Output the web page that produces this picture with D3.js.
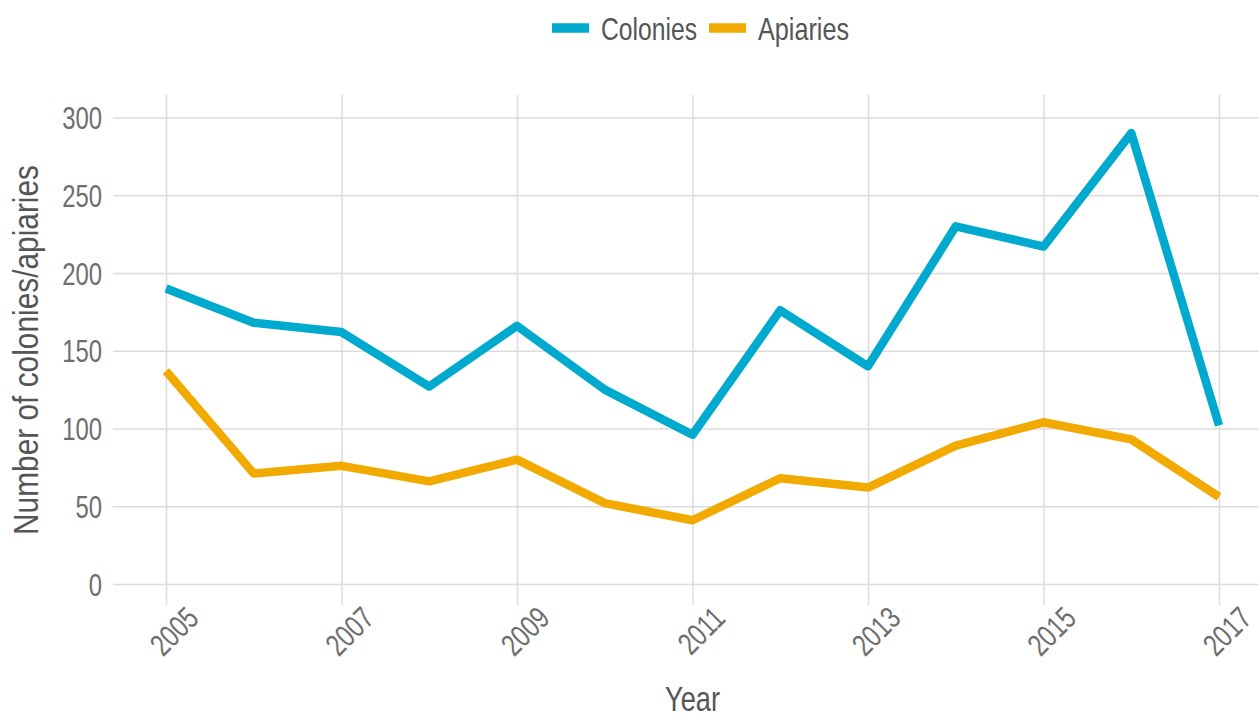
<!DOCTYPE html>
<html>
<head>
<meta charset="utf-8">
<style>
  body { margin: 0; background: #fff; }
  svg text { font-family: "Liberation Sans", Arial, sans-serif; }
</style>
</head>
<body>
<div class="chartContainer"></div>
<script src="https://d3js.org/d3.v7.min.js"></script>
<script>
    // data
    const years = [2005, 2006, 2007, 2008, 2009, 2010, 2011, 2012, 2013, 2014, 2015, 2016, 2017];
    const colonies = [190, 168, 162, 127, 166, 125, 96, 176, 140, 230, 217, 290, 102];
    const apiaries = [137, 71, 76, 66, 80, 52, 41, 68, 62, 89, 104, 93, 56];
    const xTicks = [2005, 2007, 2009, 2011, 2013, 2015, 2017];
    const yTicks = [0, 50, 100, 150, 200, 250, 300];
    const seriesNames = ['Colonies', 'Apiaries'];
    const seriesColors = ['#00a9ce', '#f2a900'];

    const W = 1259, H = 714;
    const panel = {left: 113, right: 1259, top: 95, bottom: 584};

    const svg = d3.select('.chartContainer')
                  .append('svg')
                  .attr('width', W)
                  .attr('height', H);

    // the reference font is condensed; squeeze the glyphs horizontally
    function squeeze(sel, ratio) {
      sel.each(function(){
        const w = this.getComputedTextLength();
        d3.select(this).attr('textLength', w * ratio).attr('lengthAdjust', 'spacingAndGlyphs');
      });
    }

    const x = d3.scaleLinear().domain([2005, 2017]).range([166, 1219]);
    const y = d3.scaleLinear().domain([0, 300]).range([584, 117.5]);

    // horizontal grid + y labels
    const yAxis = svg.append('g')
                     .attr('transform', `translate(${panel.left},0)`)
                     .call(d3.axisLeft(y).tickValues(yTicks).tickSize(-(panel.right - panel.left)).tickPadding(11));
    yAxis.select('.domain').remove();
    yAxis.selectAll('line').style('stroke', '#dcdcdc').style('stroke-width', 1.5);
    yAxis.selectAll('text').style('font-size', '31px').style('fill', '#6e6e6e').attr('dy', '0.36em');
    squeeze(yAxis.selectAll('text'), 0.77);

    // vertical grid + x labels
    const xAxis = svg.append('g')
                     .attr('transform', `translate(0,${panel.bottom + 21})`)
                     .call(d3.axisBottom(x).tickValues(xTicks).tickFormat(d3.format('d'))
                             .tickSizeInner(-(panel.bottom + 21 - panel.top)).tickSizeOuter(0));
    xAxis.select('.domain').remove();
    xAxis.selectAll('line').style('stroke', '#dcdcdc').style('stroke-width', 1.5);
    xAxis.selectAll('text')
         .style('font-size', '31px').style('fill', '#6e6e6e')
         .attr('text-anchor', 'end')
         .attr('transform', 'translate(34,15) rotate(-45)')
         .attr('y', 0).attr('dy', 0);
    squeeze(xAxis.selectAll('text'), 0.77);

    // lines
    const line = d3.line().x((d, i) => x(years[i])).y(d => y(d));
    [colonies, apiaries].forEach((s, k) => {
      svg.append('path')
         .datum(s)
         .attr('d', line)
         .style('fill', 'none')
         .style('stroke', seriesColors[k])
         .style('stroke-width', 8.5)
         .style('stroke-linejoin', 'round');
    });

    // axis titles
    svg.append('text').attr('x', 692.5).attr('y', 711)
       .attr('text-anchor', 'middle').style('font-size', '35px').style('fill', '#555')
       .attr('textLength', 55).attr('lengthAdjust', 'spacingAndGlyphs')
       .text('Year');
    svg.append('text').attr('transform', 'translate(38,350) rotate(-90)')
       .attr('text-anchor', 'middle').style('font-size', '35px').style('fill', '#555')
       .attr('textLength', 370).attr('lengthAdjust', 'spacingAndGlyphs')
       .text('Number of colonies/apiaries');

    // legend
    const legendX = [552, 709];
    const legendW = [96, 91];
    seriesNames.forEach((n, k) => {
      const g = svg.append('g').attr('transform', `translate(${legendX[k]},28)`);
      g.append('line').attr('x1', 0).attr('x2', 37).attr('y1', 0).attr('y2', 0)
       .style('stroke', seriesColors[k]).style('stroke-width', 9.5);
      g.append('text').attr('x', 49).attr('y', 11.7)
       .style('font-size', '32px').style('fill', '#555')
       .attr('textLength', legendW[k]).attr('lengthAdjust', 'spacingAndGlyphs')
       .text(n);
    });
</script>
</body>
</html>
